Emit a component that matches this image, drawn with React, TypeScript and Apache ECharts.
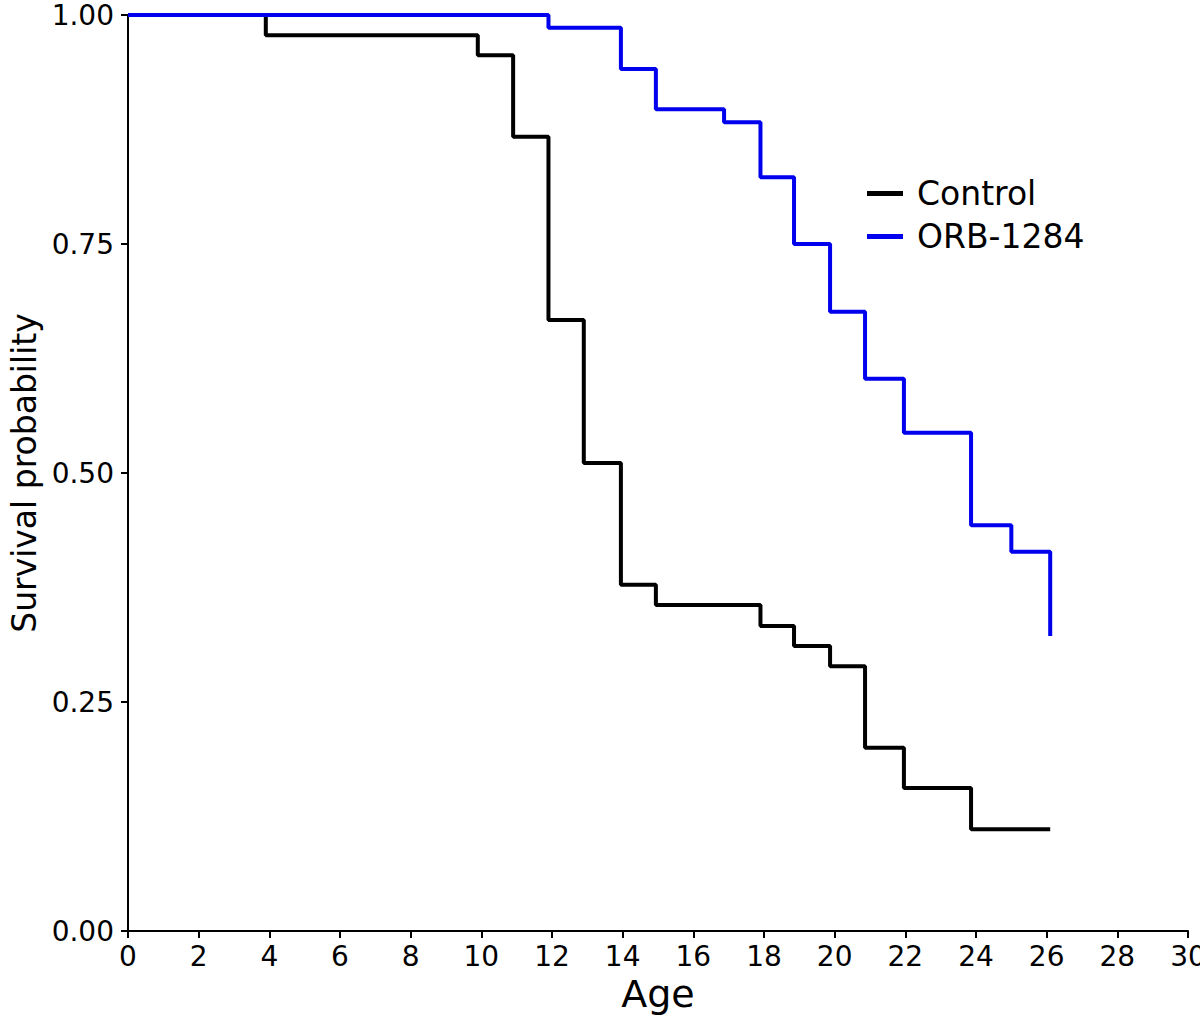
import React, { useEffect, useRef } from "react";
import * as echarts from "echarts";

const controlTimes = [0, 3.9, 9.9, 10.9, 11.9, 12.9, 13.95, 14.94, 17.9, 18.85, 19.87, 20.86, 21.96, 23.86, 26.1];
const controlSurv = [1, 0.978, 0.956, 0.867, 0.667, 0.511, 0.378, 0.356, 0.333, 0.311, 0.289, 0.2, 0.156, 0.111, 0.111];

const orbTimes = [0, 11.9, 13.95, 14.94, 16.87, 17.9, 18.85, 19.87, 20.86, 21.96, 23.86, 25.0, 26.1];
const orbSurv = [1, 0.986, 0.941, 0.897, 0.883, 0.823, 0.75, 0.676, 0.603, 0.544, 0.443, 0.414, 0.322];

const seriesNames = ["Control", "ORB-1284"];
const seriesColors = ["#000000", "#0000ee"];

const FONT = "DejaVu Sans";

export default function App() {
  const ref = useRef<HTMLDivElement>(null);
  useEffect(() => {
    if (!ref.current) return;
    const chart = echarts.init(ref.current, undefined, { renderer: "svg" });
    const toPairs = (t: number[], s: number[]) => t.map((x, i) => [x, s[i]]);
    chart.setOption({
      animation: false,
      backgroundColor: "#ffffff",
      grid: { left: 128, right: 12, top: 15, bottom: 97, containLabel: false, outerBoundsMode: "none" },
      legend: {
        orient: "vertical",
        left: 862,
        top: 172,
        icon: "rect",
        itemWidth: 36,
        itemHeight: 5,
        itemGap: 10,
        data: seriesNames,
        textStyle: { fontFamily: FONT, fontSize: 33, color: "#000", padding: [0, 0, 0, 9], lineHeight: 33 },
      },
      xAxis: {
        type: "value",
        min: 0,
        max: 30,
        interval: 2,
        name: "Age",
        nameLocation: "middle",
        nameGap: 44,
        nameTextStyle: { fontFamily: FONT, fontSize: 38, color: "#000" },
        axisLine: { show: true, onZero: false, lineStyle: { color: "#000", width: 2 } },
        axisTick: { show: true, length: 7, lineStyle: { color: "#000", width: 2 } },
        axisLabel: { fontFamily: FONT, fontSize: 28, color: "#000", margin: 11 },
        splitLine: { show: false },
      },
      yAxis: {
        type: "value",
        min: 0,
        max: 1,
        interval: 0.25,
        name: "Survival probability",
        nameLocation: "middle",
        nameRotate: 90,
        nameGap: 84,
        nameTextStyle: { fontFamily: FONT, fontSize: 33, color: "#000" },
        axisLine: { show: true, lineStyle: { color: "#000", width: 2 } },
        axisTick: { show: true, length: 7, lineStyle: { color: "#000", width: 2 } },
        axisLabel: {
          fontFamily: FONT,
          fontSize: 28,
          color: "#000",
          margin: 14,
          formatter: (v: number) => v.toFixed(2),
        },
        splitLine: { show: false },
      },
      series: [
        {
          name: seriesNames[0],
          type: "line",
          step: "end",
          symbol: "none",
          data: toPairs(controlTimes, controlSurv),
          lineStyle: { color: seriesColors[0], width: 4 },
          itemStyle: { color: seriesColors[0] },
          z: 2,
        },
        {
          name: seriesNames[1],
          type: "line",
          step: "end",
          symbol: "none",
          data: toPairs(orbTimes, orbSurv),
          lineStyle: { color: seriesColors[1], width: 4 },
          itemStyle: { color: seriesColors[1] },
          z: 3,
        },
      ],
    });
    return () => chart.dispose();
  }, []);
  return (
    <div
      ref={ref}
      style={{ position: "fixed", left: 0, top: 0, width: 1200, height: 1028 }}
    />
  );
}
